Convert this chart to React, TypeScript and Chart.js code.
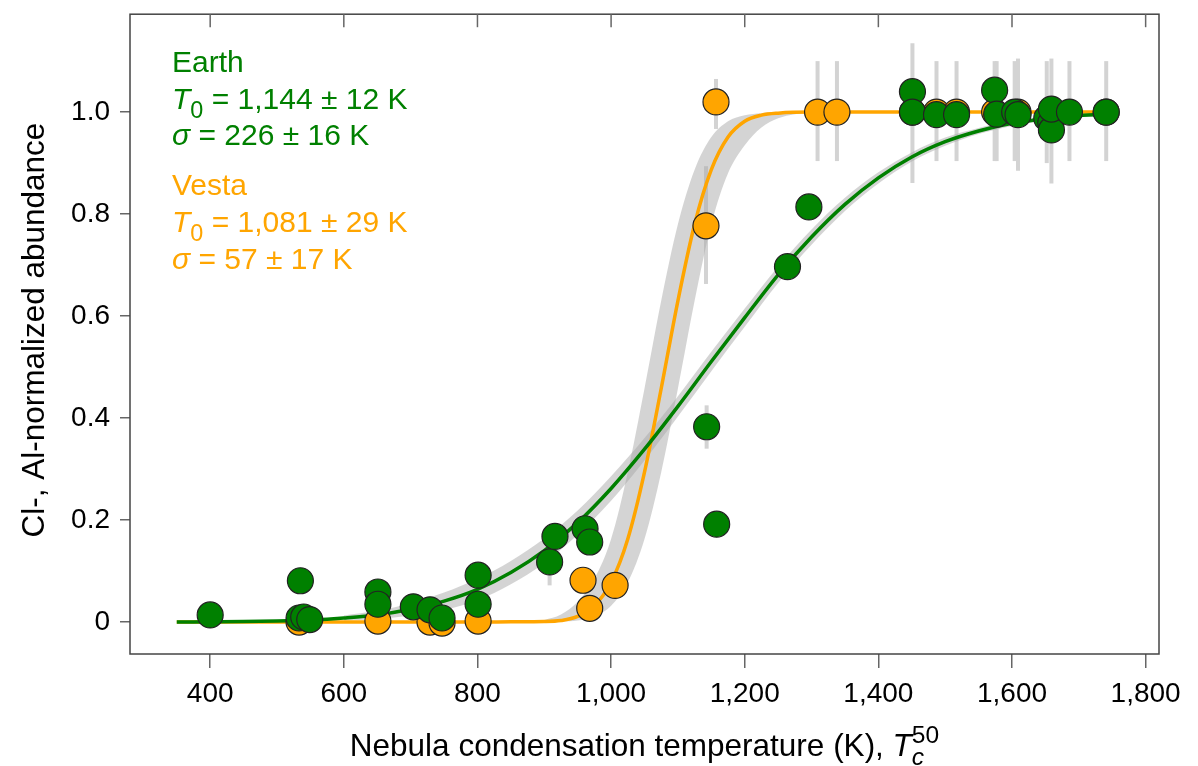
import React, { useEffect, useRef } from 'react';
import { Chart, registerables } from 'chart.js';

Chart.register(...registerables);

const FONT = '"Liberation Sans", Arial, Helvetica, sans-serif';
const GREEN = '#008000';
const ORANGE = '#FFA500';

// axis ticks
const xTickValues = [400, 600, 800, 1000, 1200, 1400, 1600, 1800];
const xTickLabels = ['400', '600', '800', '1,000', '1,200', '1,400', '1,600', '1,800'];
const yTickValues = [0, 0.2, 0.4, 0.6, 0.8, 1.0];
const yTickLabels = ['0', '0.2', '0.4', '0.6', '0.8', '1.0'];

const xAxisTitle = 'Nebula condensation temperature (K), ';
const yAxisTitle = 'Cl-, Al-normalized abundance';

const earthName = 'Earth';
const earthT0Text = ' = 1,144 \u00b1 12 K';
const earthSigmaText = ' = 226 \u00b1 16 K';
const vestaName = 'Vesta';
const vestaT0Text = ' = 1,081 \u00b1 29 K';
const vestaSigmaText = ' = 57 \u00b1 17 K';

// Earth data points
const earthPointT = [400, 535, 533, 540, 549, 651, 651, 704, 729, 747, 801, 801, 908, 916, 961, 968, 1143, 1158, 1264, 1296, 1451, 1451, 1487, 1517, 1574, 1577, 1604, 1609, 1652, 1658, 1659, 1659, 1686, 1741];
const earthPointY = [0.014, 0.081, 0.008, 0.010, 0.005, 0.059, 0.035, 0.030, 0.024, 0.008, 0.092, 0.035, 0.118, 0.168, 0.183, 0.157, 0.383, 0.192, 0.697, 0.814, 1.040, 1.000, 0.995, 0.995, 1.043, 0.996, 1.000, 0.995, 0.988, 0.979, 0.965, 1.006, 1.000, 1.000];

// Vesta data points
const vestaPointT = [533, 651, 729, 747, 801, 958, 968, 1006, 1142, 1157, 1309, 1338, 1451, 1487, 1517, 1574, 1609, 1659, 1741];
const vestaPointY = [0.000, 0.002, 0.000, -0.002, 0.002, 0.082, 0.027, 0.072, 0.777, 1.020, 1.000, 1.000, 1.000, 1.000, 1.000, 1.000, 1.000, 1.000, 1.000];

// error bars
const errT = [908, 1142, 1143, 1157, 1309, 1338, 1451, 1487, 1517, 1574, 1577, 1604, 1609, 1652, 1659, 1686, 1741];
const errLo = [0.072, 0.663, 0.340, 0.967, 0.904, 0.904, 0.861, 0.904, 0.904, 0.904, 0.904, 0.904, 0.885, 0.900, 0.860, 0.904, 0.904];
const errHi = [0.160, 0.894, 0.425, 1.065, 1.100, 1.100, 1.135, 1.100, 1.100, 1.100, 1.100, 1.100, 1.105, 1.100, 1.105, 1.100, 1.100];

// fitted curves
const earthCurveT = [350, 400, 450, 500, 550, 600, 650, 700, 750, 800, 850, 900, 950, 1000, 1050, 1100, 1150, 1200, 1250, 1300, 1350, 1400, 1450, 1500, 1550, 1600, 1650, 1700, 1750];
const earthCurveY = [0.000, 0.0005, 0.001, 0.002, 0.004, 0.008, 0.014, 0.025, 0.041, 0.064, 0.097, 0.140, 0.195, 0.262, 0.339, 0.423, 0.511, 0.597, 0.681, 0.755, 0.819, 0.871, 0.912, 0.942, 0.963, 0.978, 0.987, 0.993, 0.996];

const vestaCurveT = [350, 400, 500, 600, 700, 800, 850, 900, 925, 950, 975, 1000, 1025, 1050, 1075, 1100, 1125, 1150, 1175, 1200, 1225, 1250, 1300, 1400, 1500, 1600, 1700, 1750];
const vestaCurveY = [0, 0, 0, 0, 0, 0, 0.0005, 0.001, 0.003, 0.011, 0.032, 0.078, 0.163, 0.294, 0.458, 0.630, 0.780, 0.887, 0.951, 0.982, 0.994, 0.998, 1.0, 1.0, 1.0, 1.0, 1.0, 1.0];

// confidence bands
const earthBandT = [600, 650, 700, 750, 800, 850, 900, 950, 1000, 1050, 1100, 1150, 1200, 1250, 1300, 1350, 1400, 1450, 1500, 1550, 1600, 1650, 1700, 1750];
const earthBandHi = [0.013, 0.022, 0.037, 0.058, 0.085, 0.120, 0.164, 0.219, 0.286, 0.361, 0.443, 0.530, 0.615, 0.697, 0.770, 0.832, 0.882, 0.921, 0.950, 0.969, 0.983, 0.991, 0.996, 0.998];
const earthBandLo = [0.003, 0.006, 0.013, 0.024, 0.043, 0.074, 0.116, 0.171, 0.238, 0.317, 0.403, 0.492, 0.579, 0.665, 0.740, 0.806, 0.860, 0.903, 0.934, 0.957, 0.973, 0.983, 0.990, 0.994];

const vestaBandT = [900, 925, 950, 975, 1000, 1025, 1050, 1075, 1100, 1125, 1150, 1175, 1200, 1225, 1250, 1275, 1300, 1325, 1350];
const vestaBandHi = [0.004, 0.015, 0.040, 0.085, 0.163, 0.294, 0.458, 0.630, 0.780, 0.887, 0.951, 0.982, 0.994, 0.998, 1.0, 1.0, 1.0, 1.0, 1.0];
const vestaBandLo = [0, 0.001, 0.003, 0.011, 0.032, 0.078, 0.163, 0.294, 0.458, 0.630, 0.780, 0.880, 0.935, 0.970, 0.988, 0.996, 0.999, 1.0, 1.0];

const zip = (xs: number[], ys: number[]) => xs.map((x, i) => ({ x, y: ys[i] }));

type Part = { t: string; italic?: boolean; sub?: boolean; sup?: boolean; stack?: boolean };

function measureRich(ctx: CanvasRenderingContext2D, parts: Part[], size: number) {
  let w = 0;
  let lastStart = 0;
  let lastW = 0;
  for (const p of parts) {
    const s = p.sub || p.sup ? size * 0.78 : size;
    ctx.font = `${p.italic ? 'italic ' : ''}${s}px ${FONT}`;
    const pw = ctx.measureText(p.t).width;
    if (p.stack) {
      w = lastStart + Math.max(lastW, pw);
    } else {
      lastStart = w;
      lastW = pw;
      w += pw;
    }
  }
  return w;
}

function drawRich(ctx: CanvasRenderingContext2D, x: number, y: number, parts: Part[], size: number) {
  let cx = x;
  let lastStart = x;
  for (const p of parts) {
    const s = p.sub || p.sup ? size * 0.78 : size;
    ctx.font = `${p.italic ? 'italic ' : ''}${s}px ${FONT}`;
    const dy = p.sub ? size * 0.28 : p.sup ? -size * 0.42 : 0;
    const startX = p.stack ? lastStart : cx;
    ctx.fillText(p.t, startX, y + dy);
    const pw = ctx.measureText(p.t).width;
    if (!p.stack) {
      lastStart = cx;
      cx += pw;
    } else {
      cx = Math.max(cx, startX + pw);
    }
  }
}

const decorPlugin = {
  id: 'decor',
  beforeDatasetsDraw(chart: any) {
    const { ctx, scales } = chart;
    const x = scales.x;
    const y = scales.y;
    ctx.save();
    ctx.strokeStyle = '#d3d3d3';
    ctx.lineWidth = 4;
    errT.forEach((t, i) => {
      const px = x.getPixelForValue(t);
      ctx.beginPath();
      ctx.moveTo(px, y.getPixelForValue(errLo[i]));
      ctx.lineTo(px, y.getPixelForValue(errHi[i]));
      ctx.stroke();
    });
    ctx.restore();
  },
  afterDraw(chart: any) {
    const { ctx, chartArea, scales } = chart;
    const x = scales.x;
    const { left, right, top, bottom } = chartArea;
    ctx.save();
    // frame
    ctx.strokeStyle = '#444';
    ctx.lineWidth = 1.5;
    ctx.strokeRect(left, top, right - left, bottom - top);
    // top inward ticks
    ctx.strokeStyle = '#666';
    ctx.lineWidth = 1.5;
    xTickValues.forEach((v) => {
      const px = x.getPixelForValue(v);
      ctx.beginPath();
      ctx.moveTo(px, top);
      ctx.lineTo(px, top + 13);
      ctx.stroke();
    });

    // annotations
    ctx.textAlign = 'left';
    ctx.textBaseline = 'alphabetic';
    const ax = left + 42;
    const fs = 30;
    ctx.fillStyle = GREEN;
    drawRich(ctx, ax, top + 58, [{ t: earthName }], fs);
    drawRich(ctx, ax, top + 95, [{ t: 'T', italic: true }, { t: '0', sub: true }, { t: earthT0Text }], fs);
    drawRich(ctx, ax, top + 131, [{ t: '\u03c3', italic: true }, { t: earthSigmaText }], fs);
    ctx.fillStyle = ORANGE;
    drawRich(ctx, ax, top + 181, [{ t: vestaName }], fs);
    drawRich(ctx, ax, top + 218, [{ t: 'T', italic: true }, { t: '0', sub: true }, { t: vestaT0Text }], fs);
    drawRich(ctx, ax, top + 255, [{ t: '\u03c3', italic: true }, { t: vestaSigmaText }], fs);

    // x title
    ctx.fillStyle = '#000';
    const tsize = 31.5;
    const xParts: Part[] = [
      { t: xAxisTitle },
      { t: 'T', italic: true },
      { t: 'c', italic: true, sub: true },
      { t: '50', sup: true, stack: true },
    ];
    const w = measureRich(ctx, xParts, tsize);
    drawRich(ctx, (left + right) / 2 - w / 2, bottom + 102, xParts, tsize);

    // y title
    ctx.save();
    ctx.translate(44, (top + bottom) / 2 - 4);
    ctx.rotate(-Math.PI / 2);
    ctx.textAlign = 'center';
    ctx.font = `${tsize}px ${FONT}`;
    ctx.fillText(yAxisTitle, 0, 0);
    ctx.restore();

    ctx.restore();
  },
};

export default function App() {
  const ref = useRef<HTMLCanvasElement>(null);
  useEffect(() => {
    if (!ref.current) return;
    const line = (data: any, color: string, order: number) => ({
      type: 'line',
      data,
      borderColor: color,
      borderWidth: 3.5,
      pointRadius: 0,
      fill: false,
      cubicInterpolationMode: 'monotone',
      order,
    });
    const band = (data: any, fill: any, order: number) => ({
      type: 'line',
      data,
      borderWidth: 0,
      borderColor: 'rgba(0,0,0,0)',
      backgroundColor: 'rgba(170,170,170,0.5)',
      pointRadius: 0,
      fill,
      cubicInterpolationMode: 'monotone',
      order,
    });
    const chart = new Chart(ref.current, {
      type: 'scatter',
      data: {
        datasets: [
          band(zip(earthBandT, earthBandHi), '+1', 7),
          band(zip(earthBandT, earthBandLo), false, 6),
          band(zip(vestaBandT, vestaBandHi), '+1', 5),
          band(zip(vestaBandT, vestaBandLo), false, 4),
          line(zip(vestaCurveT, vestaCurveY), ORANGE, 3),
          line(zip(earthCurveT, earthCurveY), GREEN, 2),
          {
            type: 'scatter',
            data: zip(vestaPointT, vestaPointY),
            backgroundColor: ORANGE,
            borderColor: '#222',
            borderWidth: 1.2,
            pointRadius: 13,
            order: 1,
          },
          {
            type: 'scatter',
            data: zip(earthPointT, earthPointY),
            backgroundColor: GREEN,
            borderColor: '#222',
            borderWidth: 1.2,
            pointRadius: 13,
            order: 0,
          },
        ] as any,
      },
      options: {
        animation: false,
        responsive: false,
        layout: { padding: { top: 12, right: 39, left: 0, bottom: 0 } },
        plugins: { legend: { display: false }, tooltip: { enabled: false } },
        scales: {
          x: {
            type: 'linear',
            min: 280,
            max: 1820,
            afterBuildTicks: (s: any) => {
              s.ticks = xTickValues.map((v) => ({ value: v }));
            },
            afterFit: (s: any) => {
              s.height = 112;
              s.paddingLeft = 0;
              s.paddingRight = 0;
              s.paddingTop = 0;
              s.paddingBottom = 0;
            },
            ticks: {
              callback: (v: any) => xTickLabels[xTickValues.indexOf(Number(v))],
              font: { size: 28, family: FONT },
              color: '#000',
              padding: 9,
              maxRotation: 0,
              autoSkip: false,
            },
            grid: { drawOnChartArea: false, drawTicks: true, tickLength: 14, color: '#666', lineWidth: 1.5 },
            border: { display: false },
          },
          y: {
            type: 'linear',
            min: -0.0626,
            max: 1.192,
            afterBuildTicks: (s: any) => {
              s.ticks = yTickValues.map((v) => ({ value: v }));
            },
            afterFit: (s: any) => {
              s.width = 130;
              s.paddingLeft = 0;
              s.paddingRight = 0;
              s.paddingTop = 0;
              s.paddingBottom = 0;
            },
            ticks: {
              callback: (v: any) => {
                const i = yTickValues.findIndex((t) => Math.abs(t - Number(v)) < 1e-6);
                return i >= 0 ? yTickLabels[i] : '';
              },
              font: { size: 28, family: FONT },
              color: '#000',
              padding: 10,
              autoSkip: false,
            },
            grid: { drawOnChartArea: false, drawTicks: true, tickLength: 10, color: '#666', lineWidth: 1.5 },
            border: { display: false },
          },
        },
      } as any,
      plugins: [decorPlugin],
    });
    return () => chart.destroy();
  }, []);
  return (
    <canvas
      ref={ref}
      width={1198}
      height={766}
      style={{ position: 'fixed', left: 0, top: 0, display: 'block', background: '#fff' }}
    />
  );
}
